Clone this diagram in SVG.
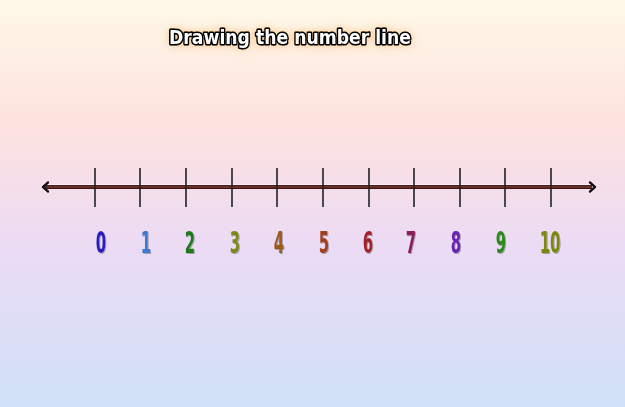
<svg xmlns="http://www.w3.org/2000/svg" width="625" height="407" viewBox="0 0 625 407">
<defs>
<linearGradient id="bg" x1="0" y1="0" x2="0" y2="1">
<stop offset="0" stop-color="#fff9e8"/>
<stop offset="0.3" stop-color="#fde2de"/>
<stop offset="0.6" stop-color="#ecdbf4"/>
<stop offset="1" stop-color="#cfe1f8"/>
</linearGradient>
<filter id="glow" x="-20%" y="-80%" width="140%" height="260%">
<feGaussianBlur in="SourceAlpha" stdDeviation="5" result="b"/>
<feFlood flood-color="#f0b060" flood-opacity="0.6"/>
<feComposite in2="b" operator="in" result="g"/>
<feMerge><feMergeNode in="g"/><feMergeNode in="SourceGraphic"/></feMerge>
</filter>
<filter id="shadow" x="-20%" y="-20%" width="140%" height="140%">
<feOffset dx="1" dy="1" in="SourceAlpha" result="o"/>
<feGaussianBlur in="o" stdDeviation="0.6" result="b"/>
<feFlood flood-color="#000" flood-opacity="0.3"/>
<feComposite in2="b" operator="in" result="s"/>
<feMerge><feMergeNode in="s"/><feMergeNode in="SourceGraphic"/></feMerge>
</filter>
</defs>
<style>
.title{font-family:"DejaVu Sans",sans-serif;font-weight:bold;font-size:19px;fill:#fff;stroke:#000;stroke-width:3.5px;paint-order:stroke;stroke-linejoin:round}
.tick{stroke:#222;stroke-width:1.6}
.num{font-family:"DejaVu Sans Condensed","DejaVu Sans",sans-serif;font-weight:bold;font-size:30px;text-anchor:middle}
.arrow{fill:none;stroke:#111;stroke-width:2.2;stroke-linecap:round;stroke-linejoin:round}
</style>
<rect width="625" height="407" fill="url(#bg)"/>
<g id="title" filter="url(#glow)">
<text class="title" x="169" y="44" textLength="242" lengthAdjust="spacingAndGlyphs">Drawing the number line</text>
</g>
<g id="connectors">
<line x1="45" y1="187" x2="592" y2="187" stroke="#3a1414" stroke-width="4"/>
<line x1="45" y1="187" x2="592" y2="187" stroke="#7a3838" stroke-width="1.6"/>
<line x1="45" y1="184.6" x2="592" y2="184.6" stroke="#fff" stroke-width="0.8" opacity="0.7"/>
</g>
<g id="arrows">
<polyline class="arrow" points="48,182.5 43,187 48,191.5" stroke="#fff" stroke-width="4" opacity="0.8"/>
<polyline class="arrow" points="48,182.5 43,187 48,191.5"/>
<polyline class="arrow" points="590,182.5 595,187 590,191.5" stroke="#fff" stroke-width="4" opacity="0.8"/>
<polyline class="arrow" points="590,182.5 595,187 590,191.5"/>
</g>
<g id="ticks">
<line class="tick" x1="95" y1="168" x2="95" y2="207"/>
<line class="tick" x1="140" y1="168" x2="140" y2="207"/>
<line class="tick" x1="186" y1="168" x2="186" y2="207"/>
<line class="tick" x1="232" y1="168" x2="232" y2="207"/>
<line class="tick" x1="277" y1="168" x2="277" y2="207"/>
<line class="tick" x1="323" y1="168" x2="323" y2="207"/>
<line class="tick" x1="369" y1="168" x2="369" y2="207" stroke-width="2.4"/>
<line class="tick" x1="414" y1="168" x2="414" y2="207"/>
<line class="tick" x1="460" y1="168" x2="460" y2="207"/>
<line class="tick" x1="505" y1="168" x2="505" y2="207" stroke-width="2.4" stroke="#555"/>
<line class="tick" x1="551" y1="168" x2="551" y2="207"/>
</g>
<g id="labels" filter="url(#shadow)">
<text class="num" x="101" y="253" fill="#2a1fc0" transform="translate(101 0) scale(0.55 1) translate(-101 0)">0</text>
<text class="num" x="146" y="253" fill="#3a7ad0" transform="translate(146 0) scale(0.55 1) translate(-146 0)">1</text>
<text class="num" x="190" y="253" fill="#1f7a1f" transform="translate(190 0) scale(0.55 1) translate(-190 0)">2</text>
<text class="num" x="235" y="253" fill="#7a8a1a" transform="translate(235 0) scale(0.55 1) translate(-235 0)">3</text>
<text class="num" x="279" y="253" fill="#9a5a1a" transform="translate(279 0) scale(0.55 1) translate(-279 0)">4</text>
<text class="num" x="324" y="253" fill="#a0401a" transform="translate(324 0) scale(0.55 1) translate(-324 0)">5</text>
<text class="num" x="368" y="253" fill="#a0202a" transform="translate(368 0) scale(0.55 1) translate(-368 0)">6</text>
<text class="num" x="411" y="253" fill="#8a1a5a" transform="translate(411 0) scale(0.55 1) translate(-411 0)">7</text>
<text class="num" x="456" y="253" fill="#6a20b0" transform="translate(456 0) scale(0.55 1) translate(-456 0)">8</text>
<text class="num" x="501" y="253" fill="#2a8a1a" transform="translate(501 0) scale(0.55 1) translate(-501 0)">9</text>
<text class="num" x="550" y="253" fill="#7a8a10" transform="translate(550 0) scale(0.55 1) translate(-550 0)">10</text>
</g>
</svg>
